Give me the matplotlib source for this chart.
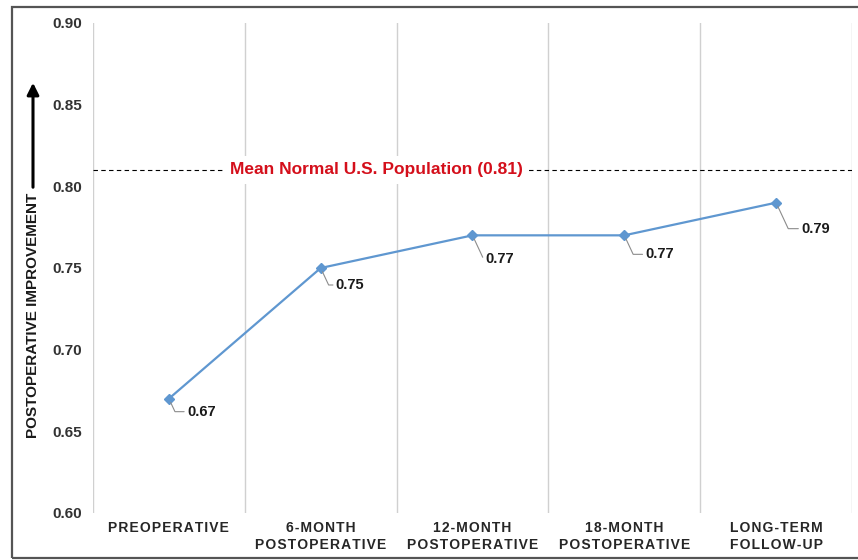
import numpy as np
import matplotlib
matplotlib.use("Agg")
import matplotlib.pyplot as plt
from matplotlib.patches import Rectangle, FancyArrowPatch

plt.rcParams['font.family'] = ['Liberation Sans', 'DejaVu Sans']

# data
stages = ["PREOPERATIVE", "6-MONTH\nPOSTOPERATIVE", "12-MONTH\nPOSTOPERATIVE",
          "18-MONTH\nPOSTOPERATIVE", "LONG-TERM\nFOLLOW-UP"]
scores = [0.67, 0.75, 0.77, 0.77, 0.79]
us_mean = 0.81
y_ticks = [0.60, 0.65, 0.70, 0.75, 0.80, 0.85, 0.90]

# label offsets (pixels) for the value callouts
label_offsets = [(18, -13), (15, -17), (13, -24), (21, -19), (25, -26)]


def spaced(s):
    # wide letter spacing for the category names
    return "\n".join("\u200a".join(list(line)) for line in s.split("\n"))


fig = plt.figure(figsize=(8.58, 5.6), dpi=100)
ax = fig.add_axes([93 / 858, 47 / 560, 759 / 858, 490 / 560])

x = np.arange(len(stages))
line_col = '#5f97d0'
ax.plot(x, scores, color=line_col, lw=1.6, marker='D', ms=5, mfc=line_col, mec=line_col, zorder=3)

for xi, v, (dx, dy) in zip(x, scores, label_offsets):
    ax.annotate(f"{v:.2f}", xy=(xi, v), xytext=(dx, dy), textcoords='offset pixels',
                ha='left', va='center', fontsize=10.5, fontweight='bold', color='#1a1a1a',
                arrowprops=dict(arrowstyle='-', color='#8c8c8c', lw=0.8, shrinkA=0, shrinkB=3,
                                relpos=(0, 0.5),
                                connectionstyle='angle,angleA=0,angleB=115,rad=0'))

# normal population reference
ax.axhline(us_mean, color='black', lw=0.8, ls=(0, (4, 3)), zorder=2)
ax.text(0.373, us_mean, f"Mean Normal U.S. Population ({us_mean:.2f})",
        transform=ax.get_yaxis_transform(), ha='center', va='center',
        fontsize=12.5, fontweight='bold', color='#d40f1b', zorder=4,
        bbox=dict(facecolor='white', edgecolor='none', pad=5))

ax.set_xlim(-0.5, len(stages) - 0.5)
ax.set_ylim(0.60, 0.90)
ax.set_yticks(y_ticks)
ax.set_yticklabels([f"{t:.2f}" for t in y_ticks], fontsize=11, fontweight='bold', color='#333333')
ax.set_xticks(x)
ax.set_xticklabels([spaced(s) for s in stages], fontsize=10, fontweight='bold',
                   color='#262626', linespacing=1.2)
ax.tick_params(axis='both', length=0)
ax.tick_params(axis='y', pad=8)
ax.tick_params(axis='x', pad=6)

ax.set_xticks(np.arange(-0.5, len(stages)), minor=True)
ax.tick_params(axis='x', which='minor', length=0)
ax.grid(which='minor', axis='x', color='#d0d0d0', lw=1)
ax.grid(which='major', visible=False)
for s in ax.spines.values():
    s.set_visible(False)

# axis title with upward arrow
fig.text(33 / 858, 1 - 315 / 560, "POSTOPERATIVE IMPROVEMENT", rotation=90,
         ha='center', va='center', fontsize=11, fontweight='bold', color='#1a1a1a')
fig.add_artist(FancyArrowPatch((33 / 858, 1 - 190 / 560), (33 / 858, 1 - 80 / 560),
                               transform=fig.transFigure, arrowstyle='-|>,head_length=7,head_width=3.5',
                               mutation_scale=1, lw=2.2, color='black'))

# outer frame
fig.add_artist(Rectangle((12 / 858, 2 / 560), 1, 551 / 560, transform=fig.transFigure,
                         fill=False, edgecolor='#555555', lw=1.6))

fig.savefig("out.png", dpi=100)
